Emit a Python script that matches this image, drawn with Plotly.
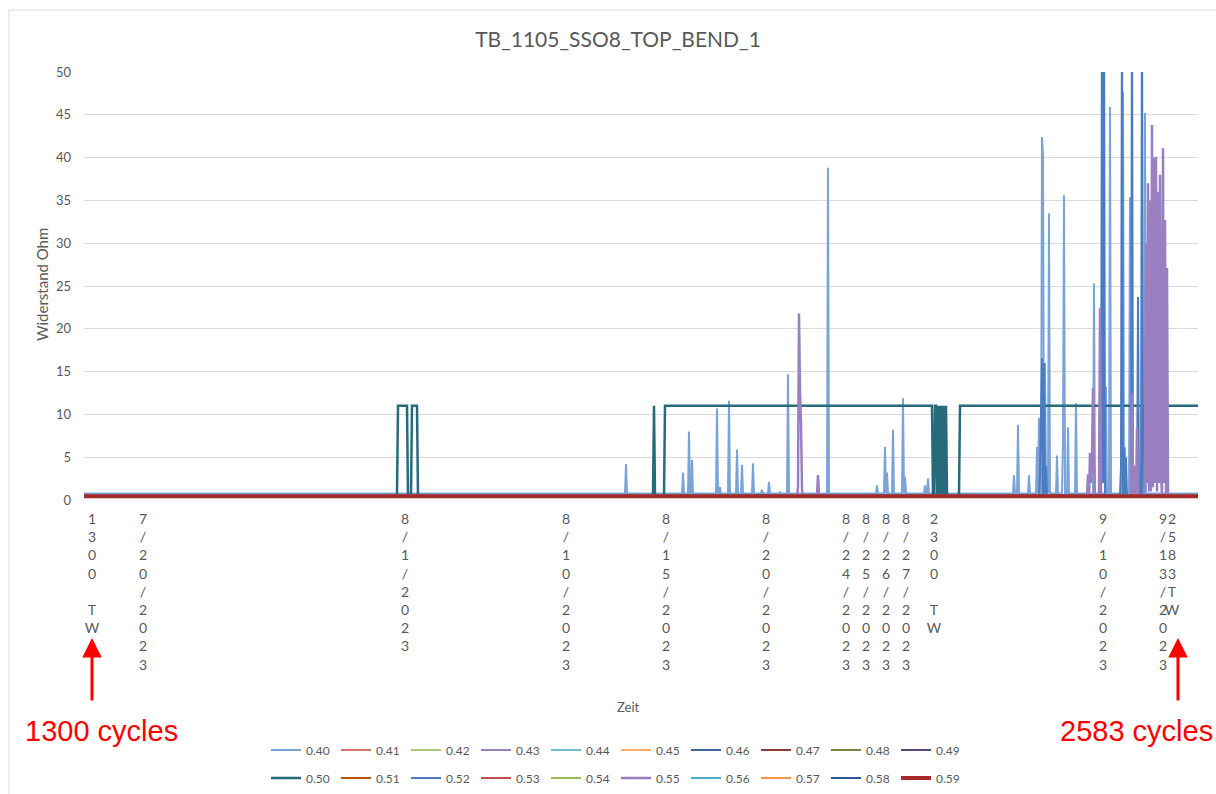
import plotly.graph_objects as go

# ---------------------------------------------------------------------------
# Data: resistance samples per probe, indexed by sample number along "Zeit"
# ---------------------------------------------------------------------------
N_SAMPLES = 1115

series_names = ["0.40", "0.41", "0.42", "0.43", "0.44", "0.45", "0.46", "0.47", "0.48", "0.49",
                "0.50", "0.51", "0.52", "0.53", "0.54", "0.55", "0.56", "0.57", "0.58", "0.59"]

# resting resistance level of each probe (Ohm)
series_base = [0.75, 0.50, 0.50, 0.50, 0.50, 0.50, 0.50, 0.50, 0.50, 0.50,
               0.50, 0.50, 0.55, 0.50, 0.50, 0.50, 0.50, 0.50, 0.50, 0.45]

# probe 0.40: single-sample peaks (sample index, Ohm)
s040_idx = [542, 599, 605, 608, 633, 636, 645, 653, 658, 669, 678, 685, 696, 704, 744,
            793, 801, 803, 809, 819, 821, 841, 844,
            930, 934, 945, 953, 955, 958, 959, 961, 963, 965, 973, 979, 980, 984, 992,
            1010, 1022, 1026, 1039, 1041, 1046, 1061]
s040_val = [4.2, 3.2, 8.0, 4.7, 10.7, 1.5, 11.6, 5.9, 4.1, 4.3, 1.2, 2.1, 0.9, 14.7, 38.8,
            1.7, 6.2, 3.2, 8.2, 11.9, 2.7, 1.7, 2.5,
            2.9, 8.8, 2.9, 6.2, 9.6, 42.4, 40.3, 16.0, 3.5, 33.5, 5.2, 7.0, 35.6, 8.5, 11.3,
            25.3, 13.2, 45.9, 47.7, 6.2, 35.4, 45.2]

# probe 0.52
s052_idx = [956, 957, 958, 960, 962, 1018, 1019, 1020, 1037, 1038, 1040, 1042, 1048, 1054, 1058]
s052_val = [3.0, 9.0, 16.6, 16.0, 4.0, 60.0, 2.0, 60.0, 4.0, 60.0, 6.0, 5.0, 60.0, 23.7, 60.0]

# probe 0.55
s055_idx = [714, 715, 716, 717, 718, 734,
            1004, 1006, 1007, 1008, 1009, 1010, 1016, 1048, 1050, 1053,
            1061, 1062, 1063, 1064, 1065, 1066, 1067, 1068, 1069, 1070, 1071, 1072, 1073,
            1074, 1075, 1076, 1077, 1079, 1080, 1081, 1083]
s055_val = [1.5, 21.8, 12.6, 9.0, 1.2, 2.9,
            3.0, 5.5, 2.0, 5.0, 13.1, 4.0, 22.4, 12.5, 4.0, 8.4,
            5.0, 30.0, 2.0, 37.0, 1.0, 35.0, 1.0, 43.8, 1.5, 40.0, 2.0, 40.1, 1.0,
            36.0, 2.0, 38.0, 3.0, 41.1, 2.0, 32.7, 27.1]

# probe 0.50: intervals (first sample, last sample, Ohm) spent in the high state
s050_start = [314, 328, 570, 581, 851, 852, 854, 856, 858, 860, 862, 876, 1060]
s050_end = [323, 333, 570, 848, 851, 852, 854, 856, 858, 860, 862, 1058, 1114]
s050_level = [11.0, 11.0, 11.0, 11.0, 11.0, 11.0, 11.0, 11.0, 11.0, 11.0, 11.0, 11.0, 11.0]

# x-axis labels (sample index, text)
tick_pos = [8, 59, 321, 482, 582, 682, 762, 782, 802, 822, 850, 1019, 1079, 1088]
tick_labels = ["1300 TW", "7/20/2023", "8/1/2023", "8/10/2023", "8/15/2023", "8/20/2023",
               "8/24/2023", "8/25/2023", "8/26/2023", "8/27/2023", "2300 TW",
               "9/10/2023", "9/13/2023", "2583TW"]

# ---------------------------------------------------------------------------
# Styling
# ---------------------------------------------------------------------------
series_colors = ["#7BA3D8", "#D9726F", "#AFC97A", "#9983B5", "#6FBDD1", "#F9AB6B",
                 "#41679A", "#8E3937", "#71893F", "#5C4776",
                 "#276A7C", "#B65708", "#4A7CC2", "#C0504D", "#9BBB59", "#9A80C0",
                 "#4BACC6", "#F79646", "#2A5597", "#A52A2A"]
series_width = [2, 2, 2, 2, 2, 2, 2, 2, 2, 2,
                2.5, 2, 2, 2, 2, 2.5, 2, 2, 2, 4]

GREY = "#595959"
FONT = "Lato, 'Open Sans', sans-serif"

W, H = 1216, 794
ML, MR, MT, MB = 84, 18, 72, 294
PW, PH = W - ML - MR, H - MT - MB


def px_x(px):
    return (px - ML) / PW


def px_y(py):
    return (H - MB - py) / PH


def build_series(k):
    y = [series_base[k]] * N_SAMPLES
    name = series_names[k]
    if name == "0.40":
        for i, v in zip(s040_idx, s040_val):
            y[i] = v
    elif name == "0.52":
        for i, v in zip(s052_idx, s052_val):
            y[i] = v
    elif name == "0.55":
        for i, v in zip(s055_idx, s055_val):
            y[i] = v
    elif name == "0.50":
        for a, b, lv in zip(s050_start, s050_end, s050_level):
            for i in range(a, b + 1):
                y[i] = lv
    return y


x = list(range(N_SAMPLES))
fig = go.Figure()
for k, name in enumerate(series_names):
    fig.add_trace(go.Scatter(
        x=x, y=build_series(k), name=name, mode="lines",
        line=dict(color=series_colors[k], width=series_width[k]),
        legend="legend" if k < 10 else "legend2",
        hoverinfo="skip",
    ))


def stacked(label):
    return "<br>".join(ch if ch != " " else "\u00a0" for ch in label)


legend_common = dict(
    orientation="h", xanchor="left", yanchor="middle",
    font=dict(family=FONT, size=12, color=GREY),
    bgcolor="rgba(0,0,0,0)", itemwidth=30, entrywidth=25, entrywidthmode="pixels",
    tracegroupgap=0,
)

fig.update_layout(
    width=W, height=H, autosize=False,
    margin=dict(l=ML, r=MR, t=MT, b=MB, pad=0, autoexpand=False),
    paper_bgcolor="white", plot_bgcolor="white",
    font=dict(family=FONT, color=GREY),
    title=dict(text="TB_1105_SSO8_TOP_BEND_1", x=618 / W, xanchor="center",
               y=1 - 40 / H, yanchor="middle",
               font=dict(family=FONT, size=21, color=GREY)),
    xaxis=dict(range=[0, N_SAMPLES - 1], showgrid=False, zeroline=False, showline=False,
               tickmode="array", tickvals=tick_pos,
               ticktext=[stacked(t) for t in tick_labels],
               tickangle=0, ticks="", ticklabelstandoff=9, automargin=False,
               tickfont=dict(family=FONT, size=14, color=GREY)),
    yaxis=dict(range=[0, 50], dtick=5, showgrid=True, gridcolor="#D9D9D9", gridwidth=1,
               zeroline=False, showline=False, ticks="", ticklabelstandoff=12, automargin=False,
               tickfont=dict(family=FONT, size=13, color=GREY)),
    legend=dict(x=px_x(266), y=px_y(750), **legend_common),
    legend2=dict(x=px_x(266), y=px_y(778), **legend_common),
    showlegend=True,
)

# chart frame
fig.add_shape(type="rect", xref="paper", yref="paper",
              x0=px_x(9), x1=px_x(1230), y0=px_y(805), y1=px_y(10),
              line=dict(color="#D9D9D9", width=1), fillcolor="rgba(0,0,0,0)", layer="below")

# axis titles
fig.add_annotation(text="Zeit", xref="paper", yref="paper", x=px_x(628), y=px_y(707),
                   xanchor="center", yanchor="middle",
                   showarrow=False, font=dict(family=FONT, size=13, color=GREY))
fig.add_annotation(text="Widerstand Ohm", xref="paper", yref="paper", x=px_x(42), y=px_y(285),
                   xanchor="center", yanchor="middle",
                   textangle=-90, showarrow=False, font=dict(family=FONT, size=15, color=GREY))

# cycle markers
for px, label, tx in [(92, "1300 cycles", 101), (1178, "2583 cycles", 1136)]:
    fig.add_annotation(text="", xref="paper", yref="paper", x=px_x(px), y=px_y(638),
                       ax=0, ay=64, axref="pixel", ayref="pixel",
                       showarrow=True, arrowhead=2, arrowsize=1.3, arrowwidth=3,
                       arrowcolor="#FF0000")
    fig.add_annotation(text=label, xref="paper", yref="paper", x=px_x(tx), y=px_y(731),
                       xanchor="center", yanchor="middle",
                       showarrow=False,
                       font=dict(family="Liberation Sans, Arial, sans-serif", size=29,
                                 color="#FF0000"))

fig.write_html("out.html")
